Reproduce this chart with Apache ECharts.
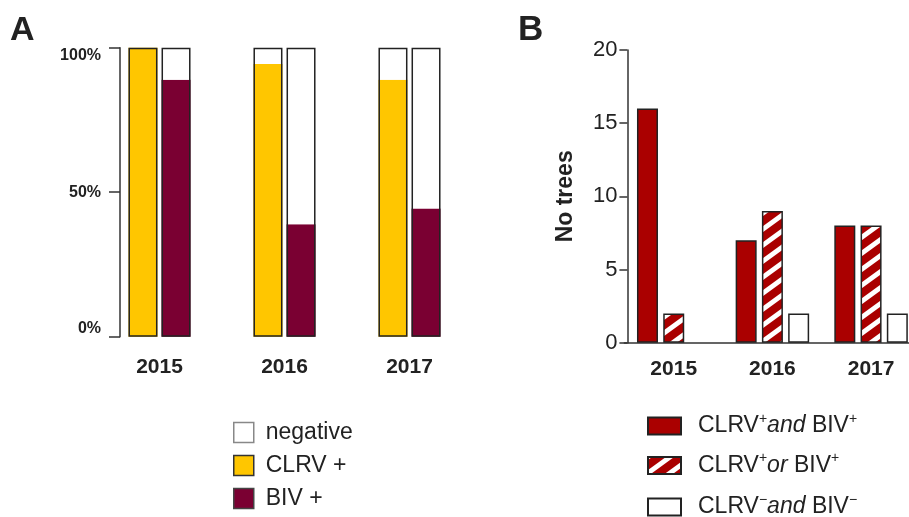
<!DOCTYPE html>
<html>
<head>
<meta charset="utf-8">
<script src="https://cdn.jsdelivr.net/npm/echarts@6/dist/echarts.min.js"></script>
<style>
  html, body { margin: 0; padding: 0; background: #fff; }
  #chart { width: 909px; height: 517px; }
</style>
</head>
<body>
<div id="chart"></div>
<script>
// Sampling years shared by both panels
const years = ['2015', '2016', '2017'];

// Panel A: share of sampled trees (%) testing positive / negative for each virus
const clrvPositive = [100, 94.4, 88.9];
const clrvNegative = [0, 5.6, 11.1];
const bivPositive = [88.9, 38.9, 44.4];
const bivNegative = [11.1, 61.1, 55.6];
const barTotal = [100, 100, 100];
const percentTicks = [0, 50, 100];

// Panel B: number of trees per infection status
const bothPositive = [16, 7, 8];
const eitherPositive = [2, 9, 8];
const bothNegative = [0, 2, 2];
const countTicks = [0, 5, 10, 15, 20];

const FONT = '"Liberation Sans", Arial, Helvetica, sans-serif';
const INK = '#222';
const YELLOW = '#FFC600';
const MAROON = '#7A0032';
const RED = '#AA0000';

// Red tile with a white diagonal stripe, repeated as a fill pattern
function stripeTile() {
  const w = 22, h = 16, t = 6;
  const c = document.createElement('canvas');
  c.width = w; c.height = h;
  const g = c.getContext('2d');
  g.fillStyle = RED;
  g.fillRect(0, 0, w, h);
  g.fillStyle = '#fff';
  for (let k = -1; k <= 1; k++) {
    g.beginPath();
    g.moveTo(0, h + k * h - t / 2);
    g.lineTo(w, k * h - t / 2);
    g.lineTo(w, k * h + t / 2);
    g.lineTo(0, h + k * h + t / 2);
    g.closePath();
    g.fill();
  }
  return c;
}
const hatch = { image: stripeTile(), repeat: 'repeat' };

const legendLabels = {
  'CLRV+ and BIV+': '{t|CLRV}{s|+}{i|and}{t| BIV}{s|+}',
  'CLRV+ or BIV+': '{t|CLRV}{s|+}{i|or}{t| BIV}{s|+}',
  'CLRV- and BIV-': '{t|CLRV}{s|\u2212}{i|and}{t| BIV}{s|\u2212}'
};

const chart = echarts.init(document.getElementById('chart'), null, { renderer: 'canvas' });

const barA = { type: 'bar', xAxisIndex: 0, yAxisIndex: 0, barWidth: 29, barGap: '14%' };
const outlineA = {
  type: 'bar', name: 'total', xAxisIndex: 1, yAxisIndex: 0, barWidth: 29, barGap: '14%',
  data: barTotal, silent: true, z: 5,
  itemStyle: { color: 'rgba(0,0,0,0)', borderColor: INK, borderWidth: 1.5 }
};
const barB = {
  type: 'bar', xAxisIndex: 2, yAxisIndex: 1, barWidth: 21, barGap: '25%'
};
const edge = { borderColor: INK, borderWidth: 1.5 };

// Legend text for panel B, with superscript signs and italic conjunctions
const legendBText = {
  color: INK, fontFamily: FONT, padding: [0, 0, 0, 12],
  rich: {
    t: { fontSize: 23, lineHeight: 28, color: INK, fontFamily: FONT },
    i: { fontSize: 23, lineHeight: 28, fontStyle: 'italic', color: INK, fontFamily: FONT },
    s: { fontSize: 14, lineHeight: 14, verticalAlign: 'top', color: INK, fontFamily: FONT }
  }
};
const legendB = {
  orient: 'vertical', left: 647, itemWidth: 33, itemHeight: 17, itemGap: 13, padding: 0,
  icon: 'rect', selectedMode: false,
  formatter: name => legendLabels[name],
  textStyle: legendBText
};

chart.setOption({
  animation: false,
  textStyle: { fontFamily: FONT, color: INK },
  title: [
    { text: 'A', left: 10, top: 14, padding: 0, textStyle: { fontSize: 34, fontWeight: 'bold', color: INK, fontFamily: FONT } },
    { text: 'B', left: 518, top: 13, padding: 0, textStyle: { fontSize: 35, fontWeight: 'bold', color: INK, fontFamily: FONT } }
  ],
  grid: [
    { left: 97, top: 47.7, width: 375, height: 289, outerBoundsMode: 'none' },
    { left: 624.4, top: 50, width: 296, height: 292.7, outerBoundsMode: 'none' }
  ],
  xAxis: [
    {
      type: 'category', gridIndex: 0, data: years,
      axisLine: { show: false }, axisTick: { show: false },
      axisLabel: { fontSize: 21, fontWeight: 'bold', color: INK, margin: 20, fontFamily: FONT }
    },
    { type: 'category', gridIndex: 0, data: years, show: false },
    {
      type: 'category', gridIndex: 1, data: years,
      axisLine: { lineStyle: { color: '#333', width: 1.5 } },
      axisTick: { alignWithLabel: true, length: 7, lineStyle: { color: '#333', width: 1.5 } },
      axisLabel: { fontSize: 21, fontWeight: 'bold', color: INK, margin: 16, fontFamily: FONT }
    }
  ],
  yAxis: [
    {
      type: 'value', gridIndex: 0, min: 0, max: 100, interval: 50, offset: -23,
      axisLine: { show: true, lineStyle: { color: '#333', width: 1.5 } },
      axisTick: { show: true, length: 11, customValues: percentTicks, lineStyle: { color: '#333', width: 1.5 } },
      axisLabel: {
        customValues: percentTicks, formatter: '{value}%', fontSize: 16, fontWeight: 'bold',
        color: INK, margin: 19, fontFamily: FONT,
        verticalAlignMaxLabel: 'top', verticalAlignMinLabel: 'bottom'
      },
      splitLine: { show: false }
    },
    {
      type: 'value', gridIndex: 1, min: 0, max: 20, interval: 5, offset: -3,
      name: 'No trees', nameLocation: 'middle', nameGap: 50,
      nameTextStyle: { fontSize: 23, fontWeight: 'bold', color: INK, fontFamily: FONT },
      axisLine: { show: true, lineStyle: { color: '#333', width: 1.5 } },
      axisTick: { show: true, length: 8, customValues: countTicks, lineStyle: { color: '#333', width: 1.5 } },
      axisLabel: { customValues: countTicks, fontSize: 22, color: INK, margin: 10, fontFamily: FONT },
      splitLine: { show: false }
    }
  ],
  legend: [
    {
      orient: 'vertical', left: 233, top: 421, itemWidth: 20, itemHeight: 20, itemGap: 10, padding: 0,
      icon: 'rect', selectedMode: false,
      textStyle: { fontSize: 23, color: INK, fontFamily: FONT, padding: [0, 0, 0, 7] },
      data: [
        { name: 'negative', itemStyle: { color: '#fff', borderColor: '#888', borderWidth: 1.5 } },
        { name: 'CLRV +', itemStyle: { color: YELLOW, borderColor: '#333', borderWidth: 1.5 } },
        { name: 'BIV +', itemStyle: { color: MAROON, borderColor: '#444', borderWidth: 1.5 } }
      ]
    },
    Object.assign({}, legendB, { top: 412, itemGap: 14, data: ['CLRV+ and BIV+', 'CLRV+ or BIV+'] }),
    Object.assign({}, legendB, { top: 493, data: ['CLRV- and BIV-'] })
  ],
  series: [
    Object.assign({}, barA, { name: 'CLRV +', stack: 'clrv', data: clrvPositive, itemStyle: { color: YELLOW } }),
    Object.assign({}, barA, { name: 'negative', stack: 'clrv', data: clrvNegative, itemStyle: { color: '#fff' } }),
    Object.assign({}, barA, { name: 'BIV +', stack: 'biv', data: bivPositive, itemStyle: { color: MAROON } }),
    Object.assign({}, barA, { name: 'negative', stack: 'biv', data: bivNegative, itemStyle: { color: '#fff' } }),
    Object.assign({}, outlineA),
    Object.assign({}, outlineA),
    Object.assign({}, barB, { name: 'CLRV+ and BIV+', data: bothPositive, itemStyle: Object.assign({ color: RED }, edge) }),
    Object.assign({}, barB, { name: 'CLRV+ or BIV+', data: eitherPositive, itemStyle: Object.assign({ color: hatch }, edge) }),
    Object.assign({}, barB, {
      name: 'CLRV- and BIV-',
      // an empty group draws no outline along the axis
      data: bothNegative.map(v => (v === 0 ? { value: v, itemStyle: { borderWidth: 0 } } : v)),
      itemStyle: Object.assign({ color: '#fff' }, edge)
    })
  ]
});
</script>
</body>
</html>
